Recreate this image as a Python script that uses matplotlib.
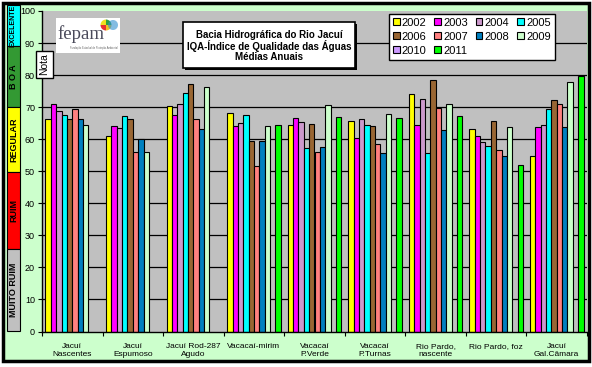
import matplotlib
matplotlib.use('Agg')
import matplotlib.pyplot as plt
import numpy as np
from matplotlib.patches import Rectangle, Patch, Wedge

plt.rcParams['font.family'] = ['Liberation Sans', 'DejaVu Sans']

W, H = 592, 367

categories = ['Jacuí\nNascentes', 'Jacuí\nEspumoso', 'Jacuí Rod-287\nAgudo', 'Vacacaí-mirim',
              'Vacacaí\nP.Verde', 'Vacacaí\nP.Turnas', 'Rio Pardo,\nnascente', 'Rio Pardo, foz',
              'Jacuí\nGal.Câmara']
years = ['2002', '2003', '2004', '2005', '2006', '2007', '2008', '2009', '2010', '2011']
nan = np.nan
v2002 = [66.3, 60.9, 70.3, 68.1, 64.4, 65.6, 74.1, 63.1, 54.7]
v2003 = [70.9, 64.1, 67.5, 64.1, 66.6, 60.3, 64.4, 60.9, 63.8]
v2004 = [68.8, 63.4, 70.9, 65.0, 65.3, 66.3, 72.5, 59.1, 64.4]
v2005 = [67.5, 67.2, 74.4, 67.5, 57.2, 64.4, 55.6, 57.8, 69.4]
v2006 = [66.3, 66.3, 77.2, 59.4, 64.7, 64.1, 78.5, 65.6, 72.2]
v2007 = [69.4, 55.9, 66.3, 51.6, 55.9, 58.4, 69.7, 56.6, 70.9]
v2008 = [66.3, 60.2, 63.1, 59.4, 57.5, 55.6, 62.8, 54.7, 63.8]
v2009 = [64.4, 55.9, 76.3, 64.1, 70.6, 67.8, 70.9, 63.8, 77.9]
v2010 = [nan, nan, nan, nan, nan, nan, nan, nan, nan]
v2011 = [nan, nan, nan, 64.4, 66.9, 66.6, 67.2, 51.9, 79.8]
series = [v2002, v2003, v2004, v2005, v2006, v2007, v2008, v2009, v2010, v2011]
colors = ['#ffff00', '#ff00ff', '#cc99cc', '#00ffff', '#996633', '#ff8080',
          '#0080c0', '#ccffcc', '#cc99ff', '#00ff00']

fig = plt.figure(figsize=(W / 100, H / 100), dpi=100)
fig.patch.set_facecolor('white')

# background axes in pixel coordinates
bg = fig.add_axes([0, 0, 1, 1], zorder=-10)
bg.set_xlim(0, W); bg.set_ylim(H, 0); bg.axis('off')
bg.add_patch(Rectangle((3, 3), 586, 358, facecolor='#ccffcc', edgecolor='black', lw=2.5))

# main axes
ax = fig.add_axes([42 / W, 35.5 / H, 545 / W, 320.5 / H], zorder=1)
ax.set_facecolor('#c0c0c0')
n = len(categories)
x = np.arange(n)
w = 1 / 11.3
for j, (vals, c) in enumerate(zip(series, colors)):
    ax.bar(x + (j - 4.5) * w, vals, width=w, color=c, edgecolor='black', lw=0.8, zorder=2)
for yv in range(10, 100, 10):
    ax.axhline(yv, color='black', lw=0.9, zorder=1)
ax.set_xlim(-0.5, n - 0.5)
ax.set_ylim(0, 100)
ax.set_yticks(range(0, 101, 10))
ax.tick_params(axis='y', labelsize=6.5, length=3, pad=2, width=0.8)
ax.set_xticks(x)
ax.set_xticklabels(categories, fontsize=6, linespacing=1.25)
ax.tick_params(axis='x', length=0, pad=8)
ax.set_xticks(np.arange(-0.5, n, 1), minor=True)
ax.tick_params(axis='x', which='minor', length=3, width=0.8)
for s in ['top', 'right']:
    ax.spines[s].set_visible(False)
for s in ['left', 'bottom']:
    ax.spines[s].set_linewidth(1.0)

# legend
handles = [Patch(facecolor=c, edgecolor='black', lw=0.8) for c in colors]
order = [0, 4, 8, 1, 5, 9, 2, 6, 3, 7]
leg = ax.legend([handles[i] for i in order], [years[i] for i in order], ncol=4,
                loc='upper left', bbox_to_anchor=(389 / W, 1 - 14 / H),
                bbox_transform=fig.transFigure, borderaxespad=0, fontsize=8,
                handlelength=0.6, handleheight=0.6, handletextpad=0.2,
                columnspacing=0.7, labelspacing=0.35, borderpad=0.35,
                fancybox=False, framealpha=1, edgecolor='black')
leg.get_frame().set_linewidth(1.0)
leg.set_zorder(20)

# overlay axes in pixel coordinates
ov = fig.add_axes([0, 0, 1, 1], zorder=5)
ov.set_xlim(0, W); ov.set_ylim(H, 0); ov.axis('off'); ov.patch.set_alpha(0)

# quality band on the left
bands = [(5, 46, '#00ffff', 'EXCELENTE', 5.0), (46, 107, '#339933', 'B O A', 6.5),
         (107, 172, '#ffff00', 'REGULAR', 6.5), (172, 249, '#ff0000', 'RUIM', 6.5),
         (249, 331, '#c0c0c0', 'MUITO RUIM', 6.5)]
for y0, y1, c, t, fs in bands:
    ov.add_patch(Rectangle((7, y0), 13, y1 - y0, facecolor=c, edgecolor='black', lw=0.8))
    ov.text(13.5, (y0 + y1) / 2, t, rotation=90, ha='center', va='center',
            fontsize=fs, fontweight='bold', color='black')

# title box
ov.add_patch(Rectangle((185, 24), 172, 46, facecolor='black', edgecolor='black', lw=0))
ov.add_patch(Rectangle((183, 22), 172, 46, facecolor='white', edgecolor='black', lw=1.2))
for yy, t in zip([35, 46, 57.5], ['Bacia Hidrográfica do Rio Jacuí',
                                   'IQA-Índice de Qualidade das Águas', 'Médias Anuais']):
    ov.text(269, yy, t, ha='center', va='center', fontsize=7, fontweight='bold', color='black')

# Nota box
ov.add_patch(Rectangle((36, 51), 17, 27, facecolor='white', edgecolor='black', lw=1))
ov.text(44.5, 64.5, 'Nota', rotation=90, ha='center', va='center', fontsize=7.5)

# logo
ov.add_patch(Rectangle((56, 18), 64, 35, facecolor='white', edgecolor='none'))
ov.text(57, 34, 'fepam', fontsize=13.5, family=['Liberation Serif', 'DejaVu Serif'],
        color='#4a4a5a', va='center', ha='left')
ov.text(70, 47.5, 'Fundação Estadual de Proteção Ambiental', fontsize=1.8,
        color='#666666', va='center')
for th1, th2, c in [(90, 180, '#e83030'), (0, 90, '#f0c020'), (180, 270, '#f0e020'),
                    (270, 360, '#30a040')]:
    ov.add_patch(Wedge((106, 25), 5.5, th1, th2, facecolor=c, edgecolor='none'))
ov.add_patch(Wedge((113, 25), 5, 0, 360, facecolor='#3090d0', edgecolor='none', alpha=0.6))

fig.savefig('out.png', dpi=100, facecolor=fig.get_facecolor())
